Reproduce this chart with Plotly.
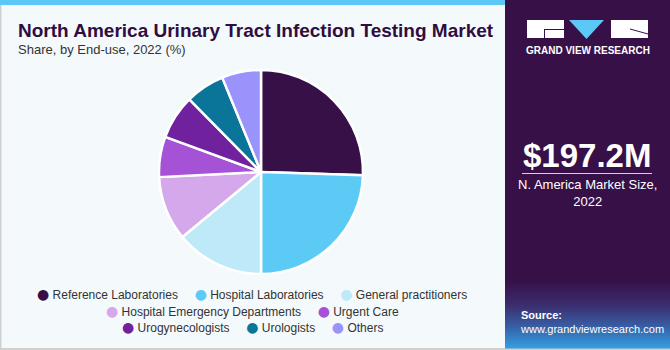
import plotly.graph_objects as go

# ---- data ----
categories = ["Reference Laboratories", "Hospital Laboratories", "General practitioners",
              "Hospital Emergency Departments", "Urgent Care", "Urogynecologists",
              "Urologists", "Others"]
shares = [25.5, 24.5, 14.0, 10.2, 6.4, 7.0, 6.2, 6.2]
colors = ["#371047", "#5BCBF5", "#BDE9F9", "#D4A8EA", "#A552D6", "#6F219E", "#0A7599", "#9A93FC"]
legend_rows = [3, 2, 3]
title_text = "North America Urinary Tract Infection Testing Market"
subtitle_text = "Share, by End-use, 2022 (%)"
market_size = "$197.2M"
market_label = "N. America Market Size,<br>2022"

W, H = 670, 350
def px(x): return x / W
def py(y): return 1 - y / H

fig = go.Figure()
fig.add_trace(go.Pie(
    labels=categories, values=shares, sort=False, direction="clockwise", rotation=0,
    marker=dict(colors=colors, line=dict(color="white", width=2.5)),
    textinfo="none", showlegend=False, hoverinfo="label+percent",
    domain=dict(x=[px(261 - 102), px(261 + 102)], y=[py(172 + 102), py(172 - 102)]),
))

shapes = []
# left panel borders
shapes.append(dict(type="rect", xref="paper", yref="paper", x0=0, x1=px(505), y0=py(5), y1=1,
                   fillcolor="#5BC8F5", line_width=0, layer="below"))
shapes.append(dict(type="rect", xref="paper", yref="paper", x0=0, x1=px(1.5), y0=0, y1=py(5),
                   fillcolor="#CFCFCF", line_width=0, layer="below"))
shapes.append(dict(type="rect", xref="paper", yref="paper", x0=0, x1=1, y0=0, y1=py(348),
                   fillcolor="#CFCFCF", line_width=0, layer="below"))
# right panel
shapes.append(dict(type="rect", xref="paper", yref="paper", x0=px(505), x1=1, y0=py(348), y1=1,
                   fillcolor="#371047", line_width=0, layer="below"))
# gradient at bottom of right panel
stops = [(280, (55, 16, 71)), (305, (60, 45, 110)), (325, (58, 90, 160)), (348, (52, 160, 225))]
nb = 34
for i in range(nb):
    y0 = 280 + (348 - 280) * i / nb
    y1 = 280 + (348 - 280) * (i + 1) / nb
    ym = (y0 + y1) / 2
    for j in range(len(stops) - 1):
        if stops[j][0] <= ym <= stops[j + 1][0]:
            t = (ym - stops[j][0]) / (stops[j + 1][0] - stops[j][0])
            c = tuple(int(stops[j][1][k] + t * (stops[j + 1][1][k] - stops[j][1][k])) for k in range(3))
            break
    shapes.append(dict(type="rect", xref="paper", yref="paper", x0=px(505), x1=1,
                       y0=py(y1 + 0.5), y1=py(y0), fillcolor="rgb(%d,%d,%d)" % c,
                       line_width=0, layer="below"))
# logo
shapes.append(dict(type="rect", xref="paper", yref="paper", x0=px(527), x1=px(564), y0=py(38), y1=py(20),
                   fillcolor="white", line_width=0))
shapes.append(dict(type="rect", xref="paper", yref="paper", x0=px(544), x1=px(564), y0=py(30), y1=py(29),
                   fillcolor="#371047", line_width=0))
shapes.append(dict(type="rect", xref="paper", yref="paper", x0=px(544), x1=px(545), y0=py(38), y1=py(29),
                   fillcolor="#371047", line_width=0))
shapes.append(dict(type="path", xref="paper", yref="paper",
                   path="M %f %f L %f %f L %f %f Z" % (px(569), py(20), px(604), py(20), px(586.5), py(39)),
                   fillcolor="#5BC8F5", line_width=0))
shapes.append(dict(type="rect", xref="paper", yref="paper", x0=px(611), x1=px(648), y0=py(38), y1=py(20),
                   fillcolor="white", line_width=0))
shapes.append(dict(type="line", xref="paper", yref="paper", x0=px(630), x1=px(648), y0=py(29), y1=py(34),
                   line=dict(color="#371047", width=1)))
# line under market size
shapes.append(dict(type="line", xref="paper", yref="paper", x0=px(522), x1=px(652), y0=py(173.5), y1=py(173.5),
                   line=dict(color="#D8D0DE", width=1.2)))

ann = []
ann.append(dict(text="<b>" + title_text + "</b>", x=px(16), y=py(30), xanchor="left", yanchor="middle",
                showarrow=False, font=dict(family="Liberation Sans", size=19, color="#2F0D40")))
ann.append(dict(text=subtitle_text, x=px(16), y=py(50), xanchor="left", yanchor="middle",
                showarrow=False, font=dict(family="Liberation Sans", size=13, color="#333333")))
# legend rows
row_y = [294, 311, 327]
idx = 0
for r, n in enumerate(legend_rows):
    parts = []
    for k in range(idx, idx + n):
        parts.append('<span style="color:%s;font-family:DejaVu Sans;font-size:14px">●</span>&nbsp;%s'
                     % (colors[k], categories[k]))
    idx += n
    ann.append(dict(text="&nbsp;&nbsp;&nbsp;&nbsp;&nbsp;".join(parts), x=px(252.5), y=py(row_y[r]),
                    xanchor="center", yanchor="middle", showarrow=False,
                    font=dict(family="Liberation Sans", size=12, color="#333333")))
# right panel texts
ann.append(dict(text="<b>GRAND VIEW RESEARCH</b>", x=px(587.5), y=py(50.5), xanchor="center", yanchor="middle",
                showarrow=False, font=dict(family="Liberation Sans", size=10, color="white")))
ann.append(dict(text="<b>" + market_size + "</b>", x=px(587), y=py(155), xanchor="center", yanchor="middle",
                showarrow=False, font=dict(family="Liberation Sans", size=33, color="white")))
ann.append(dict(text=market_label, x=px(587.5), y=py(193), xanchor="center", yanchor="middle",
                showarrow=False, font=dict(family="Liberation Sans", size=13, color="white")))
ann.append(dict(text="<b>Source:</b><br>www.grandviewresearch.com", x=px(518), y=py(322), xanchor="left",
                yanchor="middle", align="left", showarrow=False,
                font=dict(family="Liberation Sans", size=11, color="white")))

fig.update_layout(
    width=W, height=H, margin=dict(l=0, r=0, t=0, b=0),
    paper_bgcolor="#F4F9FC", plot_bgcolor="#F4F9FC",
    shapes=shapes, annotations=ann, showlegend=False,
)
fig.write_html("out.html")
